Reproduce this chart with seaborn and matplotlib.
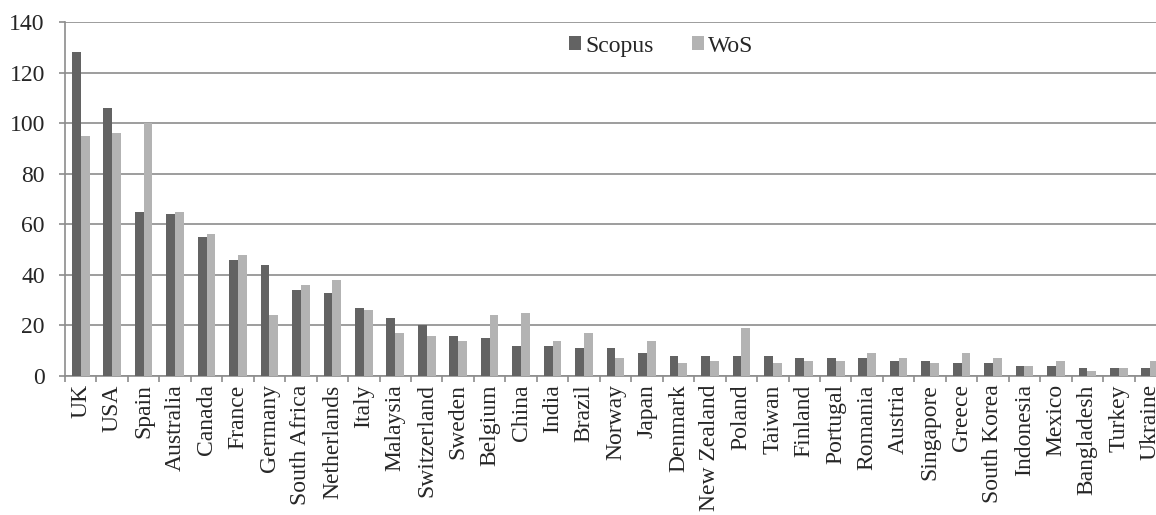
import matplotlib
matplotlib.use("Agg")
import matplotlib.pyplot as plt
import seaborn as sns
import pandas as pd
import numpy as np
from matplotlib.ticker import FixedLocator

countries = ["UK", "USA", "Spain", "Australia", "Canada", "France", "Germany",
             "South Africa", "Netherlands", "Italy", "Malaysia", "Switzerland",
             "Sweden", "Belgium", "China", "India", "Brazil", "Norway", "Japan",
             "Denmark", "New Zealand", "Poland", "Taiwan", "Finland", "Portugal",
             "Romania", "Austria", "Singapore", "Greece", "South Korea",
             "Indonesia", "Mexico", "Bangladesh", "Turkey", "Ukraine"]
scopus = [128, 106, 65, 64, 55, 46, 44, 34, 33, 27, 23, 20, 16, 15, 12, 12, 11,
          11, 9, 8, 8, 8, 8, 7, 7, 7, 6, 6, 5, 5, 4, 4, 3, 3, 3]
wos = [95, 96, 100, 65, 56, 48, 24, 36, 38, 26, 17, 16, 14, 24, 25, 14, 17,
       7, 14, 5, 6, 19, 5, 6, 6, 9, 7, 5, 9, 7, 4, 6, 2, 3, 6]
series = ["Scopus", "WoS"]
yticks = [0, 20, 40, 60, 80, 100, 120, 140]

df = pd.DataFrame({
    "country": countries * 2,
    "value": scopus + wos,
    "source": [series[0]] * len(countries) + [series[1]] * len(countries),
})

sns.set_style("white")
plt.rcParams["font.family"] = ["Liberation Serif", "DejaVu Serif"]
FS = 17

fig = plt.figure(figsize=(11.56, 5.15), dpi=100)
ax = fig.add_axes([65 / 1156, 1 - 376 / 515, (1166 - 65) / 1156, (376 - 22) / 515])

sns.barplot(data=df, x="country", y="value", hue="source", order=countries,
            hue_order=series, palette=["#636363", "#b3b3b3"], width=0.56,
            gap=0, saturation=1, ax=ax, edgecolor="none", linewidth=0,
            zorder=3)

n = len(countries)
ax.set_xlim(-0.5, n - 0.5)
ax.set_ylim(0, 140)
ax.set_yticks(yticks)
ax.yaxis.grid(True, color="#8c8c8c", linewidth=1.2, zorder=0)
ax.set_axisbelow(True)

ax.set_xticks(range(n))
ax.set_xticklabels(countries, rotation=90, fontsize=FS)
ax.tick_params(axis="x", which="major", length=0, pad=6)
ax.xaxis.set_minor_locator(FixedLocator(np.arange(-0.5, n, 1.0)))
ax.tick_params(axis="x", which="minor", length=4.5, width=1.2, color="#8c8c8c",
               direction="out", bottom=True)
ax.tick_params(axis="y", length=4.5, width=1.2, color="#8c8c8c", direction="out",
               left=True, labelsize=FS, pad=10)

for side in ["top", "right"]:
    ax.spines[side].set_visible(False)
for side in ["left", "bottom"]:
    ax.spines[side].set_color("#8c8c8c")
    ax.spines[side].set_linewidth(1.2)

ax.set_xlabel("")
ax.set_ylabel("")

leg = ax.legend(loc="center left", bbox_to_anchor=(0.458, 0.932), ncol=2,
                frameon=False, fontsize=FS, handlelength=0.5, handleheight=0.5,
                handletextpad=0.17, columnspacing=1.65, borderpad=0,
                borderaxespad=0)
leg.set_title(None)

fig.savefig("out.png", dpi=100)
